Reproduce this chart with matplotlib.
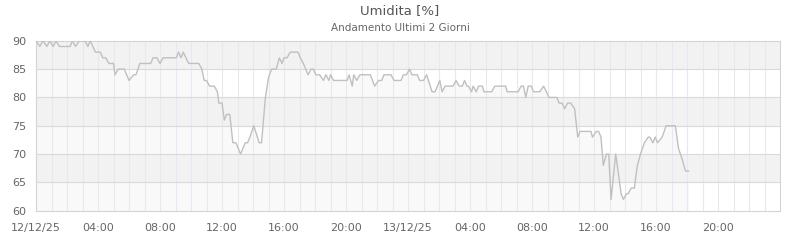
import numpy as np
import matplotlib.pyplot as plt

# ore trascorse dalla mezzanotte del 12/12/25, umidita in %
ore = [0.0, 0.25, 0.45, 0.7, 0.9, 1.1, 1.3, 1.5, 2.2, 2.35, 2.55, 2.8, 3.15, 3.35, 3.5,
       3.83, 4.15, 4.3, 4.5, 4.7, 5.0, 5.1, 5.3, 5.7, 6.0, 6.3, 6.45, 6.7, 7.4, 7.55,
       7.8, 8.0, 8.2, 9.05, 9.2, 9.35, 9.5, 9.85, 10.5, 10.7, 10.85, 11.0, 11.2, 11.5,
       11.7, 11.8, 12.0, 12.15, 12.3, 12.5, 12.7, 12.9, 13.2, 13.5, 13.65, 13.8, 14.05,
       14.4, 14.55, 14.8, 15.0, 15.2, 15.5, 15.7, 15.87, 16.0, 16.2, 16.4, 16.9, 17.05,
       17.25, 17.55, 17.75, 17.9, 18.05, 18.3, 18.55, 18.7, 18.9, 19.0, 19.2, 20.07,
       20.2, 20.4, 20.5, 20.7, 20.9, 21.57, 21.85, 22.1, 22.3, 22.45, 22.9, 23.1, 23.55,
       23.7, 23.9, 24.1, 24.25, 24.6, 24.75, 25.0, 25.2, 25.55, 25.75, 26.05, 26.2,
       26.4, 26.9, 27.1, 27.3, 27.5, 27.65, 27.8, 27.9, 28.1, 28.2, 28.4, 28.55, 28.8,
       28.9, 29.4, 29.6, 30.3, 30.4, 31.1, 31.3, 31.45, 31.6, 31.75, 31.95, 32.1, 32.5,
       32.75, 33.1, 33.6, 33.75, 33.95, 34.1, 34.3, 34.5, 34.75, 34.95, 35.1, 35.8,
       35.9, 36.15, 36.3, 36.45, 36.6, 36.8, 36.95, 37.1, 37.4, 37.6, 37.75, 37.9, 38.1,
       38.2, 38.4, 38.6, 38.8, 39.0, 39.25, 39.5, 39.6, 39.8, 39.95, 40.1, 40.4, 40.65,
       41.25, 41.45, 41.7, 41.9, 42.1]
umidita = [90, 89, 90, 89, 90, 89, 90, 89, 89, 90, 89, 90, 90, 89, 90,
           88, 88, 87, 87, 86, 86, 84, 85, 85, 83, 84, 84, 86, 86, 87,
           87, 86, 87, 87, 88, 87, 88, 86, 86, 85, 83, 83, 82, 82,
           81, 79, 79, 76, 77, 77, 72, 72, 70, 72, 72, 73, 75,
           72, 72, 80, 83.5, 85, 85, 87, 86, 87, 87, 88, 88, 87,
           86, 84, 85, 85, 84, 84, 83, 84, 83, 84, 83, 83,
           84, 82, 84, 83, 84, 84, 82, 83, 83, 84, 84, 83, 83,
           84, 84, 85, 84, 84, 83, 83, 84, 81, 81, 83, 81,
           82, 82, 83, 82, 82, 83, 82, 82, 81, 82, 81, 82, 82,
           81, 81, 82, 82, 81, 81, 82, 82, 80, 82, 82, 81, 81,
           82, 80, 80, 79, 79, 78, 79, 79, 78, 73, 74, 74,
           73, 74, 74, 73, 68, 70, 70, 62, 70, 66, 63, 62, 63,
           63, 64, 64, 68, 70, 72, 73, 73, 72, 73, 72, 73, 75,
           75, 71, 69, 67, 67]

tick_ore = [0, 4, 8, 12, 16, 20, 24, 28, 32, 36, 40, 44]
tick_lab = ['12/12/25', '04:00', '08:00', '12:00', '16:00', '20:00',
            '13/12/25', '04:00', '08:00', '12:00', '16:00', '20:00']

fig = plt.figure(figsize=(8, 2.4), dpi=100)
ax = fig.add_axes([0.045, 0.122, 0.93, 0.708])

# area sotto la linea, quasi invisibile, poi le bande grigie sopra
ax.fill_between(ore, 60, umidita, color='#f9f9f9', lw=0, zorder=0)
for lo in range(60, 90, 5):
    if (lo // 5) % 2 == 1:
        ax.axhspan(lo, lo + 5, color='#f2f2f2', zorder=0.5, lw=0)

for h in range(1, 48):
    ax.axvline(h, color='#e8e8f4', lw=0.8, zorder=1)
for v in range(65, 90, 5):
    ax.axhline(v, color='#dadada', lw=0.8, zorder=1)

ax.plot(ore, umidita, color='#c0c0c0', lw=1.0, zorder=3)

ax.set_xlim(0, 48)
ax.set_ylim(60, 90)
ax.set_yticks(range(60, 91, 5))
ax.set_xticks(tick_ore)
ax.set_xticklabels(tick_lab)
ax.tick_params(length=0, labelsize=8, colors='#666666')
ax.tick_params(axis='y', pad=7)
ax.tick_params(axis='x', pad=9)
for s in ax.spines.values():
    s.set_color('#d4d4d4')
    s.set_linewidth(0.8)

fig.text(0.5, 0.955, 'Umidita [%]', ha='center', va='center', fontsize=9.5, color='#555555')
fig.text(0.5, 0.883, 'Andamento Ultimi 2 Giorni', ha='center', va='center', fontsize=7.5, color='#666666')

fig.savefig('out.png', dpi=100)
